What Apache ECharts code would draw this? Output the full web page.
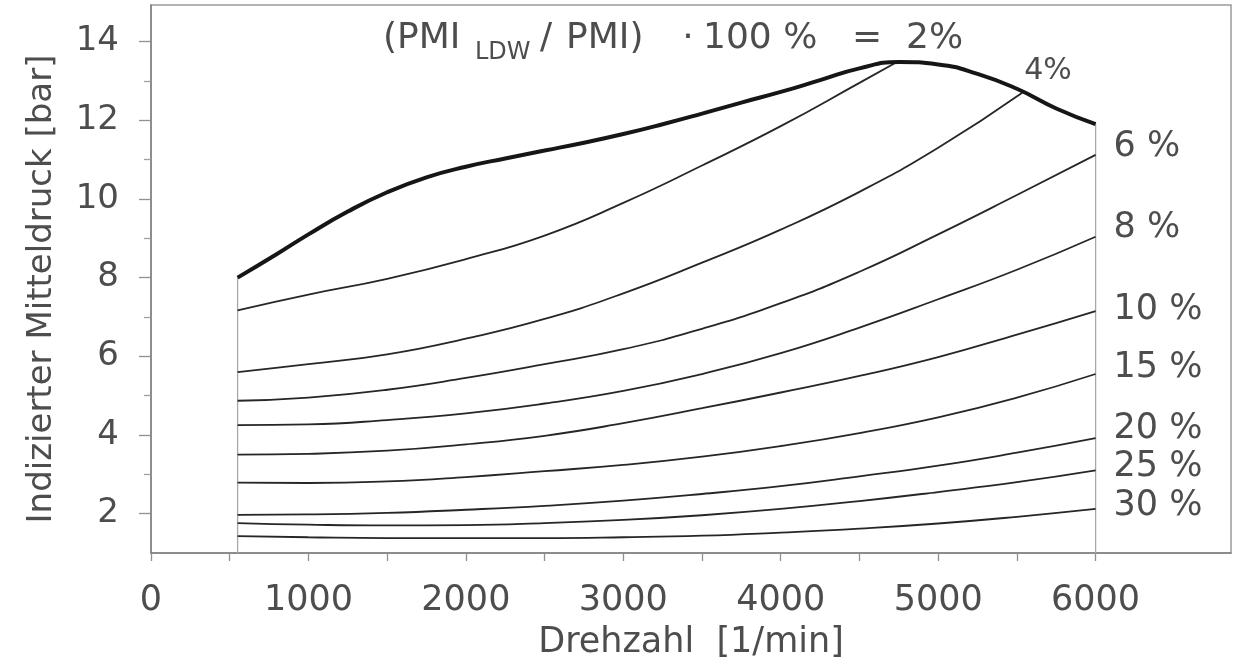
<!DOCTYPE html>
<html>
<head>
<meta charset="utf-8">
<title>Indizierter Mitteldruck über Drehzahl</title>
<script src="https://cdn.jsdelivr.net/npm/echarts@6/dist/echarts.min.js"></script>
<style>
  html, body { margin: 0; padding: 0; background: #ffffff; }
  #chart { width: 1237px; height: 671px; }
</style>
</head>
<body>
<div id="chart"></div>
<script>
// Engine speed grid (1/min) shared by the part-load curves
const rpm = [550, 1000, 1500, 2000, 2500, 3000, 3500, 4000, 4500, 5000, 5500, 6000];

// Full-load line (thick envelope)
const envelopeRpm = [550, 800, 1000, 1250, 1500, 1750, 2000, 2250, 2500, 2750, 3000, 3250,
                     3500, 3750, 4000, 4250, 4500, 4750, 5000, 5250, 5500, 5750, 6000];
const envelopeBar = [8.0, 8.6, 9.1, 9.68, 10.17, 10.55, 10.82, 11.03, 11.23, 11.43, 11.65, 11.9,
                     12.17, 12.45, 12.72, 13.02, 13.32, 13.48, 13.42, 13.18, 12.8, 12.3, 11.9];

// Lines of constant charge-exchange loss share (PMI_LDW / PMI)
const rpm2 = [550, 1000, 1500, 2000, 2500, 3000, 3500, 4000, 4500, 4730];
const bar2 = [7.17, 7.57, 7.97, 8.47, 9.07, 9.9, 10.85, 11.85, 12.95, 13.46];
const rpm4 = [550, 1000, 1500, 2000, 2500, 3000, 3500, 4000, 4500, 5000, 5534];
const bar4 = [5.6, 5.8, 6.05, 6.45, 6.95, 7.6, 8.38, 9.22, 10.18, 11.3, 12.7];
const bar6  = [4.87, 4.95, 5.15, 5.45, 5.8, 6.18, 6.7, 7.35, 8.15, 9.1, 10.1, 11.12];
const bar8  = [4.25, 4.27, 4.38, 4.55, 4.8, 5.12, 5.55, 6.08, 6.73, 7.45, 8.2, 9.04];
const bar10 = [3.5, 3.52, 3.6, 3.76, 3.98, 4.3, 4.68, 5.08, 5.5, 5.98, 6.55, 7.15];
const bar15 = [2.79, 2.78, 2.82, 2.93, 3.08, 3.24, 3.45, 3.72, 4.05, 4.45, 4.95, 5.55];
const bar20 = [1.97, 1.98, 2.02, 2.1, 2.2, 2.33, 2.5, 2.7, 2.95, 3.22, 3.55, 3.92];
const bar25 = [1.76, 1.72, 1.7, 1.71, 1.76, 1.84, 1.96, 2.12, 2.32, 2.55, 2.8, 3.1];
const bar30 = [1.43, 1.4, 1.38, 1.38, 1.38, 1.4, 1.44, 1.52, 1.62, 1.75, 1.92, 2.12];

// Curve labels at the right end
const curveLabels = ['6 %', '8 %', '10 %', '15 %', '20 %', '25 %', '30 %'];

// Axis ticks and labels
const xTicks = [0, 500, 1000, 1500, 2000, 2500, 3000, 3500, 4000, 4500, 5000, 5500, 6000];
const xLabels = [0, 1000, 2000, 3000, 4000, 5000, 6000];
const yMajor = [2, 4, 6, 8, 10, 12, 14];
const yMinor = [3, 5, 7, 9, 11, 13];

const FONT = 'DejaVu Sans';
const TEXT = '#4d4d4d';
const LINE = '#262626';

function pairs(xs, ys) { return xs.map((x, i) => [x, ys[i]]); }

function thinLine(name, data, label, dy) {
  return {
    name: name, type: 'line', data: data,
    showSymbol: false, silent: true, smooth: 0.5,
    lineStyle: { color: LINE, width: 1.8 },
    endLabel: label ? {
      show: true, formatter: label, color: TEXT, fontFamily: FONT, fontSize: 35,
      distance: 18, offset: [0, dy]
    } : { show: false },
    z: 3
  };
}

const partLoad = [bar6, bar8, bar10, bar15, bar20, bar25, bar30];
const labelDy = [-8, -9, -1, -6, -9, -3, -3];

const series = [];
series.push(thinLine('2%', pairs(rpm2, bar2), null, 0));
const s4 = thinLine('4%', pairs(rpm4, bar4), '4%', -22);
s4.endLabel.fontSize = 30;
s4.endLabel.distance = 2;
series.push(s4);
partLoad.forEach((vals, i) => {
  series.push(thinLine(curveLabels[i], pairs(rpm, vals), curveLabels[i], labelDy[i]));
});
series.push({
  name: 'Volllast', type: 'line', data: pairs(envelopeRpm, envelopeBar),
  showSymbol: false, silent: true, smooth: 0.5,
  lineStyle: { color: '#161616', width: 4 }, z: 4
});
// Vertical limits of the map at lowest and highest speed
[[envelopeRpm[0], envelopeBar[0]],
 [envelopeRpm[envelopeRpm.length - 1], envelopeBar[envelopeBar.length - 1]]].forEach(p => {
  series.push({
    type: 'line', data: [[p[0], 1], [p[0], p[1]]],
    showSymbol: false, silent: true,
    lineStyle: { color: '#a8a8a8', width: 1.3 }, z: 2
  });
});

const chart = echarts.init(document.getElementById('chart'), null, { renderer: 'canvas' });
chart.setOption({
  backgroundColor: '#ffffff',
  animation: false,
  grid: {
    left: 151, top: 5, width: 1080, height: 548,
    show: true, borderColor: '#9a9a9a', borderWidth: 1.5,
    containLabel: false, outerBoundsMode: 'none'
  },
  xAxis: {
    type: 'value', min: 0, max: 6860,
    name: 'Drehzahl  [1/min]', nameLocation: 'middle', nameGap: 72,
    nameTextStyle: { color: TEXT, fontFamily: FONT, fontSize: 35 },
    axisLine: { show: true, lineStyle: { color: '#808080', width: 1.5 } },
    axisTick: { show: true, customValues: xTicks, length: 8, lineStyle: { color: '#909090', width: 1.3 } },
    axisLabel: { customValues: xLabels, formatter: v => String(v), color: TEXT, fontFamily: FONT, fontSize: 35, margin: 30 },
    splitLine: { show: false }
  },
  yAxis: [{
    type: 'value', min: 1, max: 14.93, position: 'left',
    name: 'Indizierter Mitteldruck [bar]', nameLocation: 'middle', nameGap: 92, nameRotate: 90,
    nameTextStyle: { color: TEXT, fontFamily: FONT, fontSize: 34, padding: [0, 20, 0, 0] },
    axisLine: { show: true, lineStyle: { color: '#808080', width: 1.5 } },
    axisTick: { show: true, customValues: yMajor, length: 12, lineStyle: { color: '#909090', width: 1.3 } },
    axisLabel: { customValues: yMajor, formatter: v => String(v), color: TEXT, fontFamily: FONT, fontSize: 34, margin: 32 },
    splitLine: { show: false }
  }, {
    type: 'value', min: 1, max: 14.93, position: 'left',
    axisLine: { show: false },
    axisTick: { show: true, customValues: yMinor, length: 7, lineStyle: { color: '#a0a0a0', width: 1.3 } },
    axisLabel: { show: false },
    splitLine: { show: false }
  }],
  series: series,
  graphic: [
    { type: 'text', x: 383, y: 39, style: { text: '(PMI', fill: TEXT, fontFamily: FONT, fontSize: 36, verticalAlign: 'middle' } },
    { type: 'text', x: 475, y: 53, style: { text: 'LDW', fill: TEXT, fontFamily: FONT, fontSize: 24, verticalAlign: 'middle' } },
    { type: 'text', x: 540, y: 39, style: { text: '/', fill: TEXT, fontFamily: FONT, fontSize: 36, verticalAlign: 'middle' } },
    { type: 'text', x: 566, y: 39, style: { text: 'PMI)', fill: TEXT, fontFamily: FONT, fontSize: 36, verticalAlign: 'middle' } },
    { type: 'text', x: 688, y: 39, style: { text: '·', fill: TEXT, fontFamily: FONT, fontSize: 36, align: 'center', verticalAlign: 'middle' } },
    { type: 'text', x: 703, y: 39, style: { text: '100 %', fill: TEXT, fontFamily: FONT, fontSize: 36, verticalAlign: 'middle' } },
    { type: 'text', x: 852, y: 39, style: { text: '=', fill: TEXT, fontFamily: FONT, fontSize: 36, verticalAlign: 'middle' } },
    { type: 'text', x: 906, y: 39, style: { text: '2%', fill: TEXT, fontFamily: FONT, fontSize: 36, verticalAlign: 'middle' } }
  ]
});
</script>
</body>
</html>
